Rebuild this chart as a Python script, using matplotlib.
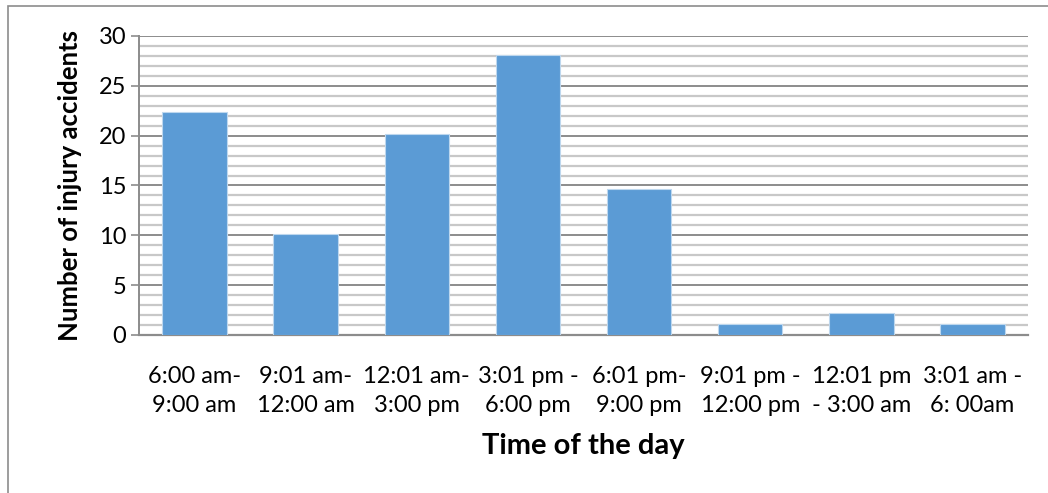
import numpy as np
import matplotlib.pyplot as plt
from matplotlib.patches import Rectangle
from matplotlib.ticker import MultipleLocator

plt.rcParams['font.family'] = ['Lato', 'DejaVu Sans']

# injury accidents per time slot
time_slots = ['6:00 am-\n9:00 am', '9:01 am-\n12:00 am', '12:01 am-\n3:00 pm',
              '3:01 pm -\n6:00 pm', '6:01 pm-\n9:00 pm', '9:01 pm -\n12:00 pm',
              '12:01 pm\n- 3:00 am', '3:01 am -\n6: 00am']
accidents = [22.4, 10.1, 20.2, 28.05, 14.6, 1.1, 2.2, 1.1]

fig = plt.figure(figsize=(10.48, 4.93), dpi=100)
ax = fig.add_axes([0.1326, 0.3205, 0.8484, 0.6065])

x = np.arange(len(time_slots))
ax.bar(x, accidents, width=0.58, color='#5B9BD5', edgecolor='#BDD7EE',
       linewidth=0.8, zorder=3)

ax.set_xlim(-0.5, len(time_slots) - 0.5)
ax.set_ylim(0, 30)
ax.yaxis.set_major_locator(MultipleLocator(5))
ax.yaxis.set_minor_locator(MultipleLocator(1))
ax.grid(axis='y', which='minor', color='#C8C8C8', linewidth=1.6, zorder=0)
ax.grid(axis='y', which='major', color='#8C8C8C', linewidth=1.4, zorder=1)

ax.set_xticks(x)
ax.set_xticklabels(time_slots, fontsize=17, linespacing=1.5)
ax.tick_params(axis='x', length=0, pad=22)
ax.tick_params(axis='y', which='major', length=6, width=1.2, color='#8C8C8C',
               labelsize=17, pad=3)
ax.tick_params(axis='y', which='minor', length=0)

for side in ['top', 'right']:
    ax.spines[side].set_visible(False)
ax.spines['left'].set_color('#8C8C8C')
ax.spines['left'].set_linewidth(1.4)
ax.spines['bottom'].set_color('#8C8C8C')
ax.spines['bottom'].set_linewidth(1.6)

ax.set_xlabel('Time of the day', fontsize=21, fontweight='bold', labelpad=12)
ax.set_ylabel('Number of injury accidents', fontsize=18.5, fontweight='bold',
              labelpad=12)

# chart area border
fig.patches.append(Rectangle((8 / 1048, -0.1), 1.2, 1.1 - 6 / 493,
                             transform=fig.transFigure, fill=False,
                             edgecolor='#8C8C8C', linewidth=1.2))

fig.savefig('out.png', dpi=100)
